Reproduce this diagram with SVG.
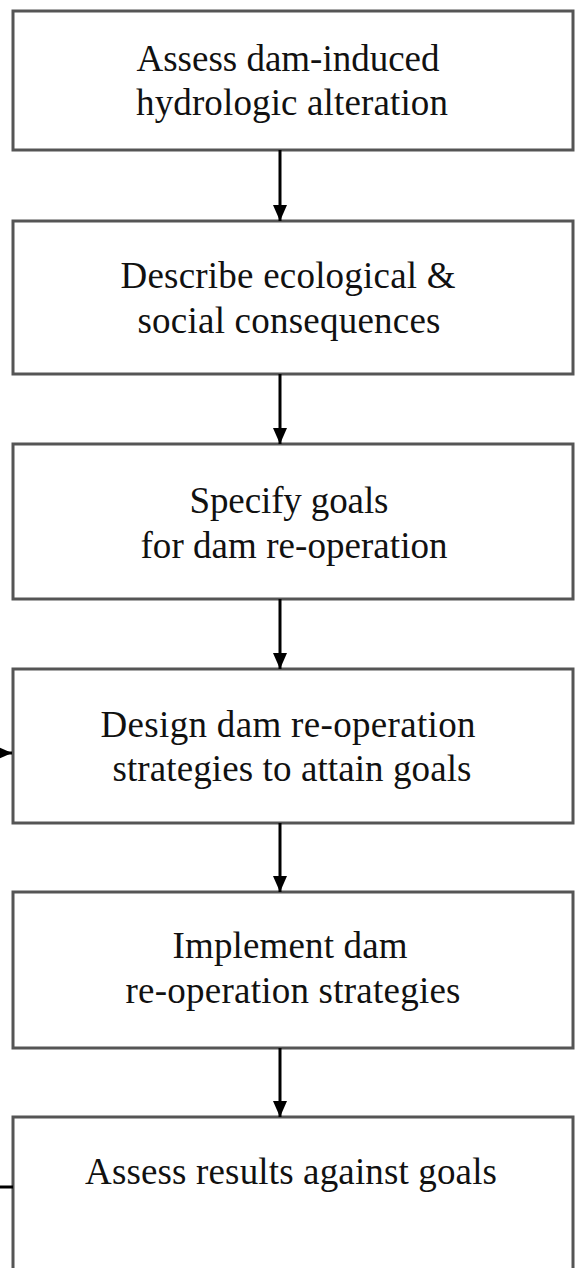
<svg xmlns="http://www.w3.org/2000/svg" width="577" height="1268" viewBox="0 0 577 1268">
<style>
.box{fill:#fff;stroke:#555;stroke-width:3}
.t{font-family:"Liberation Serif","Times New Roman",serif;font-size:37px;fill:#111;text-anchor:middle}
.c{stroke:#000;stroke-width:3;fill:none}
</style>
<defs>
<marker id="ah" viewBox="0 0 16 14" refX="16" refY="7" markerWidth="16" markerHeight="14" markerUnits="userSpaceOnUse" orient="auto">
<path d="M0,0 L16,7 L0,14 Z" fill="#000"/>
</marker>
</defs>
<rect width="577" height="1268" fill="#fff"/>
<g id="n1"><rect class="box" x="13" y="11" width="560" height="139"/>
<text class="t" x="288" y="71" textLength="303" lengthAdjust="spacing">Assess dam-induced</text>
<text class="t" x="292" y="115" textLength="312" lengthAdjust="spacing">hydrologic alteration</text></g>
<g id="n2"><rect class="box" x="13" y="221" width="560" height="153"/>
<text class="t" x="288" y="288" textLength="335" lengthAdjust="spacing">Describe ecological &amp;</text>
<text class="t" x="289" y="333" textLength="303" lengthAdjust="spacing">social consequences</text></g>
<g id="n3"><rect class="box" x="13" y="444" width="560" height="155"/>
<text class="t" x="289" y="513" textLength="199" lengthAdjust="spacing">Specify goals</text>
<text class="t" x="294" y="558" textLength="307" lengthAdjust="spacing">for dam re-operation</text></g>
<g id="n4"><rect class="box" x="13" y="669" width="560" height="154"/>
<text class="t" x="288" y="737" textLength="375" lengthAdjust="spacing">Design dam re-operation</text>
<text class="t" x="292" y="781" textLength="359" lengthAdjust="spacing">strategies to attain goals</text></g>
<g id="n5"><rect class="box" x="13" y="892" width="560" height="156"/>
<text class="t" x="290" y="958" textLength="235" lengthAdjust="spacing">Implement dam</text>
<text class="t" x="293" y="1003" textLength="335" lengthAdjust="spacing">re-operation strategies</text></g>
<g id="n6"><rect class="box" x="13" y="1117" width="560" height="200"/>
<text class="t" x="291" y="1184" textLength="412" lengthAdjust="spacing">Assess results against goals</text></g>
<g id="connectors">
<line class="c" x1="280" y1="150" x2="280" y2="221" marker-end="url(#ah)"/>
<line class="c" x1="280" y1="374" x2="280" y2="444" marker-end="url(#ah)"/>
<line class="c" x1="280" y1="599" x2="280" y2="669" marker-end="url(#ah)"/>
<line class="c" x1="280" y1="823" x2="280" y2="892" marker-end="url(#ah)"/>
<line class="c" x1="280" y1="1048" x2="280" y2="1117" marker-end="url(#ah)"/>
<line class="c" x1="-30" y1="753" x2="12" y2="753" marker-end="url(#ah)"/>
<line class="c" x1="0" y1="1187" x2="13" y2="1187"/>
</g>
</svg>
